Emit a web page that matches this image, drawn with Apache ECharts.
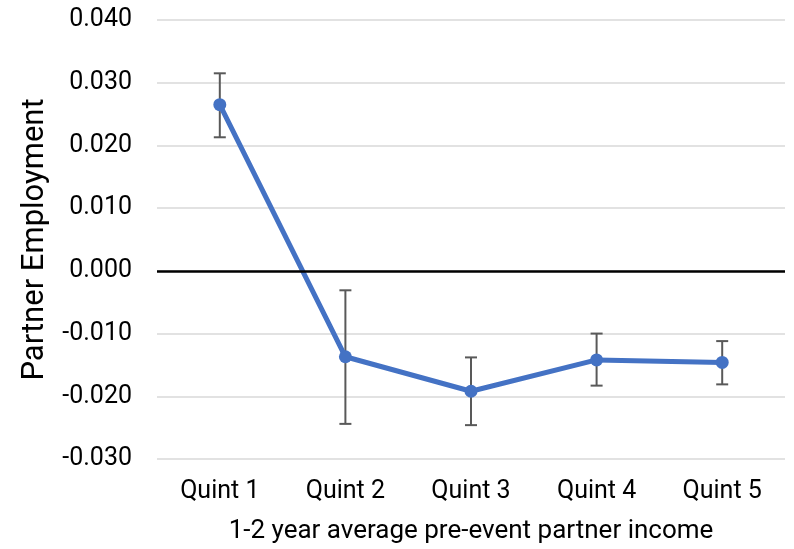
<!DOCTYPE html>
<html>
<head>
<meta charset="utf-8">
<script src="https://cdn.jsdelivr.net/npm/echarts@6/dist/echarts.min.js"></script>
<style>
  html, body { margin: 0; padding: 0; background: #fff; }
  #chart { width: 794px; height: 549px; }
</style>
</head>
<body>
<div id="chart"></div>
<script>
// categories and estimates
var quints = ['Quint 1', 'Quint 2', 'Quint 3', 'Quint 4', 'Quint 5'];
var estimate = [0.0265, -0.0137, -0.0192, -0.0142, -0.0146];
var ciLow = [0.0213, -0.0244, -0.0246, -0.0183, -0.0181];
var ciHigh = [0.0315, -0.0031, -0.0138, -0.0100, -0.0112];

var errData = [];
for (var i = 0; i < quints.length; i++) {
  errData.push([i, ciLow[i], ciHigh[i]]);
}

var chart = echarts.init(document.getElementById('chart'));

var option = {
  animation: false,
  textStyle: { fontFamily: 'Roboto' },
  grid: { left: 157, right: 9, top: 20, bottom: 90 },
  xAxis: {
    type: 'category',
    data: quints,
    axisLine: { show: false },
    axisTick: { show: false },
    axisLabel: { color: '#000', fontSize: 25, margin: 20, fontFamily: 'Roboto' },
    name: '1-2 year average pre-event partner income',
    nameLocation: 'middle',
    nameGap: 59,
    nameTextStyle: { color: '#000', fontSize: 26, fontFamily: 'Roboto' }
  },
  yAxis: {
    type: 'value',
    min: -0.03,
    max: 0.04,
    interval: 0.01,
    axisLine: { show: false },
    axisTick: { show: false },
    splitLine: { lineStyle: { color: '#d9d9d9', width: 1.5 } },
    axisLabel: {
      color: '#000', fontSize: 25, margin: 25, fontFamily: 'Roboto',
      formatter: function (v) { return v.toFixed(3); }
    },
    name: 'Partner Employment',
    nameLocation: 'middle',
    nameGap: 106,
    nameTextStyle: { color: '#000', fontSize: 31, fontFamily: 'Roboto' }
  },
  series: [
    {
      type: 'custom',
      z: 2,
      data: errData,
      renderItem: function (params, api) {
        var x = api.value(0);
        var lo = api.coord([x, api.value(1)]);
        var hi = api.coord([x, api.value(2)]);
        var half = 6;
        var style = { stroke: '#595959', lineWidth: 2 };
        return {
          type: 'group',
          children: [
            { type: 'line', shape: { x1: lo[0], y1: lo[1], x2: hi[0], y2: hi[1] }, style: style },
            { type: 'line', shape: { x1: lo[0] - half, y1: lo[1], x2: lo[0] + half, y2: lo[1] }, style: style },
            { type: 'line', shape: { x1: hi[0] - half, y1: hi[1], x2: hi[0] + half, y2: hi[1] }, style: style }
          ]
        };
      }
    },
    {
      type: 'line',
      z: 3,
      data: estimate,
      symbol: 'circle',
      symbolSize: 13,
      lineStyle: { color: '#4472c4', width: 5 },
      itemStyle: { color: '#4472c4' },
      markLine: {
        silent: true,
        symbol: 'none',
        label: { show: false },
        lineStyle: { color: '#000', width: 2.5, type: 'solid' },
        data: [{ yAxis: 0 }]
      }
    }
  ]
};

chart.setOption(option);
</script>
</body>
</html>
